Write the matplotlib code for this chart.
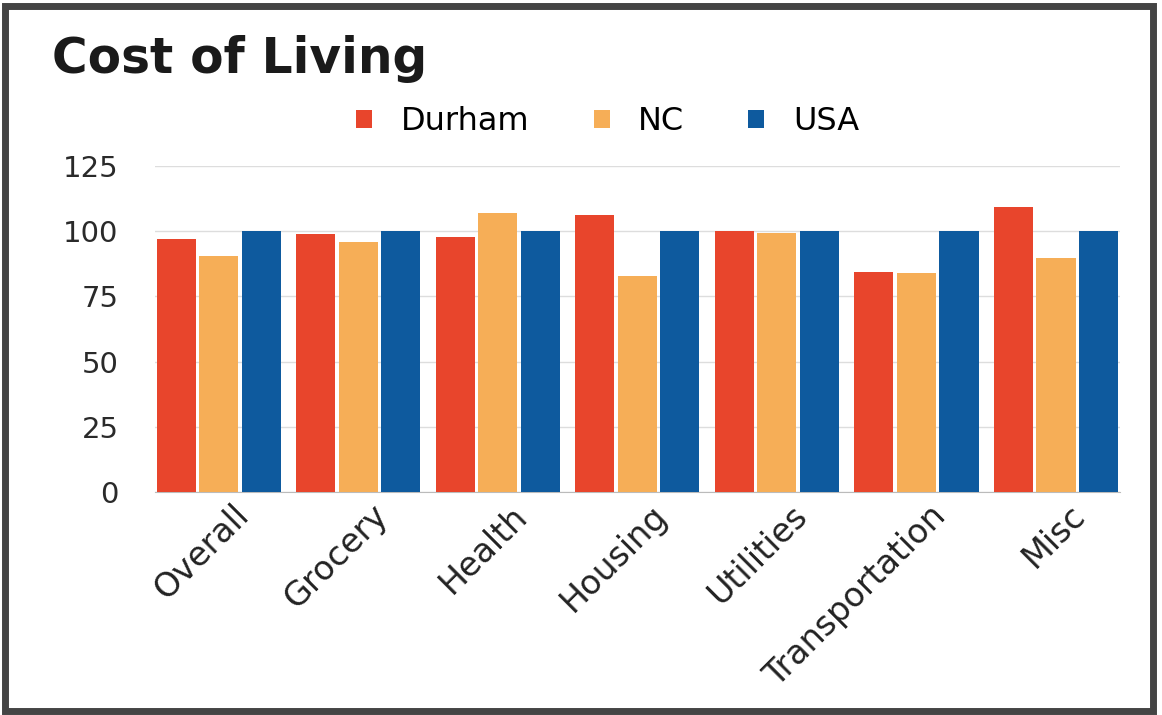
import matplotlib
matplotlib.use("Agg")
import matplotlib.pyplot as plt
import matplotlib.transforms as mtransforms
from matplotlib.patches import Rectangle
import numpy as np

categories = ["Overall", "Grocery", "Health", "Housing", "Utilities",
              "Transportation", "Misc"]
durham = [97.0, 98.7, 97.6, 106.2, 100.1, 84.2, 109.3]
nc = [90.4, 96.0, 106.8, 82.8, 99.1, 83.8, 89.5]
usa = [100, 100, 100, 100, 100, 100, 100]
y_ticks = [0, 25, 50, 75, 100, 125]

colors = {"Durham": "#E8452C", "NC": "#F6AE57", "USA": "#0E5A9E"}
series = [("Durham", durham), ("NC", nc), ("USA", usa)]

fig = plt.figure(figsize=(11.62, 7.15), dpi=100)
fig.patch.set_facecolor("white")
ax = fig.add_axes([0.133, 0.312, 0.831, 0.456])

x = np.arange(len(categories))
width = 0.28
step = 0.305
for i, (name, vals) in enumerate(series):
    ax.bar(x + (i - 1) * step, vals, width, color=colors[name], label=name,
           zorder=3)

ax.set_xlim(-0.46, len(categories) - 0.54)
ax.set_ylim(0, 125)
ax.set_yticks(y_ticks)
ax.yaxis.grid(True, color="#dddddd", linewidth=1, zorder=0)
ax.set_axisbelow(True)
for s in ["top", "right", "left"]:
    ax.spines[s].set_visible(False)
ax.spines["bottom"].set_color("#bbbbbb")
ax.tick_params(axis="y", length=0, pad=26, labelsize=21, colors="#2a2a2a")
ax.tick_params(axis="x", length=0, pad=5)

ax.set_xticks(x)
# shift the rotated labels so their ends sit just right of group centres
offset = mtransforms.ScaledTranslation(0.13, 0, fig.dpi_scale_trans)
ax.set_xticklabels(categories, rotation=45, ha="right", va="top",
                   rotation_mode="anchor", fontsize=24, color="#222222")
for lbl in ax.get_xticklabels():
    lbl.set_transform(lbl.get_transform() + offset)

fig.text(0.045, 0.918, "Cost of Living", fontsize=35, fontweight="bold",
         family="DejaVu Sans", color="#1a1a1a", va="center")

fig.legend(loc="center", bbox_to_anchor=(0.523, 0.830), ncol=3, frameon=False,
           fontsize=23, handlelength=0.5, handleheight=0.5, columnspacing=2.0,
           handletextpad=0.9)

fig.patches.append(Rectangle((0.004, 0.006), 0.988, 0.986,
                             transform=fig.transFigure, fill=False,
                             edgecolor="#444444", linewidth=5))

fig.savefig("out.png", dpi=100, facecolor="white")
